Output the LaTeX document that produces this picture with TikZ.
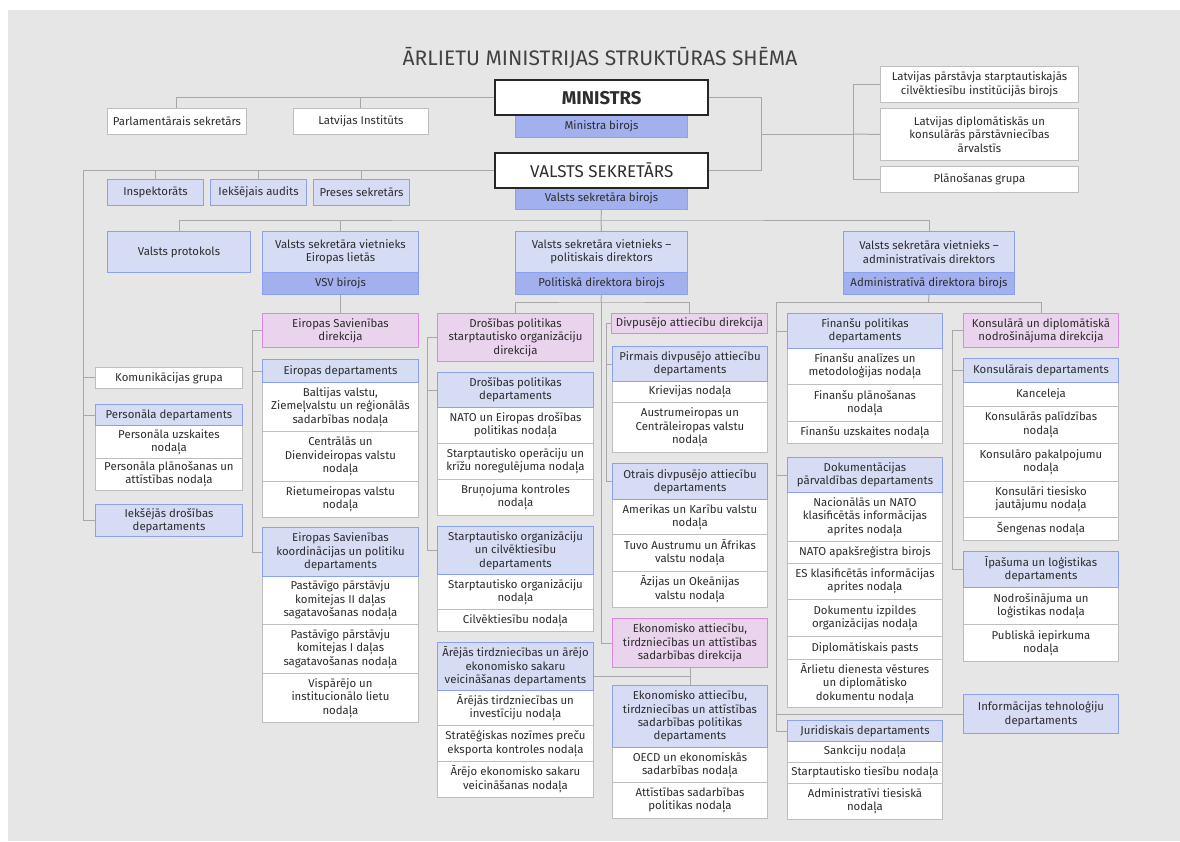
\documentclass[tikz,border=0pt]{standalone}
\usepackage{fontspec}
\setmainfont{Fira Sans}
\usetikzlibrary{calc}
\definecolor{bgc}{RGB}{230,230,230}
\definecolor{txt}{RGB}{45,45,45}
\definecolor{lnc}{RGB}{168,168,168}
\definecolor{wbd}{RGB}{190,190,190}
\definecolor{lbf}{RGB}{214,220,244}
\definecolor{bbd}{RGB}{140,160,240}
\definecolor{dbf}{RGB}{162,177,238}
\definecolor{pkf}{RGB}{234,211,236}
\definecolor{pkd}{RGB}{218,135,230}
\pgfdeclarelayer{back}
\pgfdeclarelayer{lines}
\pgfsetlayers{back,lines,main}
\newcommand\obox[7]{\node[#1,anchor=north west,minimum width={(#5-#3)*1pt},minimum height={(#6-#4)*1pt}] (#2) at (#3,#4) {#7};}
\tikzset{
  basebox/.style={inner sep=1pt,align=center,font=\fontsize{11.4}{13.4}\selectfont,text=txt},
  wbox/.style={basebox,fill=white,draw=wbd,line width=0.9pt},
  lbox/.style={basebox,fill=lbf,draw=bbd,line width=1pt},
  dbox/.style={basebox,fill=dbf,draw=bbd,line width=1pt},
  pbox/.style={basebox,fill=pkf,draw=pkd,line width=1pt},
  kbox/.style={basebox,fill=white,draw=black!85,line width=2.4pt},
  conn/.style={draw=lnc,line width=1pt},
}
\begin{document}
\begin{tikzpicture}[x=1pt,y=-1pt]
\useasboundingbox (0,0) rectangle (1180,841);
\begin{pgfonlayer}{back}
\fill[white] (0,0) rectangle (1180,841);
\fill[bgc] (8,10) rectangle (1180,841);
\end{pgfonlayer}

\node[font=\fontsize{21}{25}\selectfont,text=txt!90] (title) at (600,58) {ĀRLIETU MINISTRIJAS STRUKTŪRAS SHĒMA};

% top level
\obox{wbox}{parl}{107}{108}{246}{134}{Parlamentārais sekretārs}
\obox{wbox}{inst}{293}{108}{428}{134}{Latvijas Institūts}
\obox{dbox}{minb}{515}{114}{687}{137}{Ministra birojs}
\obox{kbox}{min}{494}{79}{707}{114}{\fontsize{18.5}{21}\selectfont\bfseries MINISTRS}
\obox{dbox}{vsb}{515}{187}{687}{209}{Valsts sekretāra birojs}
\obox{kbox}{vs}{494}{152}{707}{187}{\fontsize{17}{20}\selectfont VALSTS SEKRETĀRS}
\obox{wbox}{r1}{880}{66}{1078}{102}{Latvijas pārstāvja starptautiskajās\\cilvēktiesību institūcijās birojs}
\obox{wbox}{r2}{880}{108}{1078}{160}{Latvijas diplomātiskās un\\konsulārās pārstāvniecības\\ārvalstīs}
\obox{wbox}{r3}{880}{166}{1078}{192}{Plānošanas grupa}

\obox{lbox}{insp}{107}{179}{203}{205}{Inspektorāts}
\obox{lbox}{aud}{210}{179}{306}{205}{Iekšējais audits}
\obox{lbox}{pres}{313}{179}{409}{205}{Preses sekretārs}

\obox{lbox}{prot}{107}{231}{250}{272}{Valsts protokols}
\obox{lbox}{vsve}{262}{231}{418}{272}{Valsts sekretāra vietnieks\\Eiropas lietās}
\obox{dbox}{vsvb}{262}{272}{418}{294}{VSV birojs}
\obox{lbox}{pol}{515}{231}{687}{272}{Valsts sekretāra vietnieks –\\politiskais direktors}
\obox{dbox}{polb}{515}{272}{687}{294}{Politiskā direktora birojs}
\obox{lbox}{adm}{843}{231}{1014}{272}{Valsts sekretāra vietnieks –\\administratīvais direktors}
\obox{dbox}{admb}{843}{272}{1014}{294}{Administratīvā direktora birojs}

% left column
\obox{wbox}{kom}{95}{367}{242}{388}{Komunikācijas grupa}
\obox{wbox}{p1}{95}{425}{242}{458}{Personāla uzskaites\\nodaļa}
\obox{wbox}{p2}{95}{458}{242}{490}{Personāla plānošanas un\\attīstības nodaļa}
\obox{lbox}{pers}{95}{404}{242}{425}{Personāla departaments}
\obox{lbox}{iek}{95}{504}{242}{536}{Iekšējās drošības\\departaments}

% VSV column
\obox{pbox}{esd}{262}{313}{418}{347}{Eiropas Savienības\\direkcija}
\obox{wbox}{e1}{262}{382}{418}{431}{Baltijas valstu,\\Ziemeļvalstu un reģionālās\\sadarbības nodaļa}
\obox{wbox}{e2}{262}{431}{418}{481}{Centrālās un\\Dienvideiropas valstu\\nodaļa}
\obox{wbox}{e3}{262}{481}{418}{517}{Rietumeiropas valstu\\nodaļa}
\obox{lbox}{eur}{262}{359}{418}{382}{Eiropas departaments}
\obox{wbox}{k1}{262}{576}{418}{624}{Pastāvīgo pārstāvju\\komitejas II daļas\\sagatavošanas nodaļa}
\obox{wbox}{k2}{262}{624}{418}{673}{Pastāvīgo pārstāvju\\komitejas I daļas\\sagatavošanas nodaļa}
\obox{wbox}{k3}{262}{673}{418}{722}{Vispārējo un\\institucionālo lietu\\nodaļa}
\obox{lbox}{esk}{262}{527}{418}{576}{Eiropas Savienības\\koordinācijas un politiku\\departaments}

% political left
\obox{pbox}{drd}{437}{313}{593}{361}{Drošības politikas\\starptautisko organizāciju\\direkcija}
\obox{wbox}{d1}{437}{407}{593}{443}{NATO un Eiropas drošības\\politikas nodaļa}
\obox{wbox}{d2}{437}{443}{593}{479}{Starptautisko operāciju un\\krīžu noregulējuma nodaļa}
\obox{wbox}{d3}{437}{479}{593}{515}{Bruņojuma kontroles\\nodaļa}
\obox{lbox}{dpd}{437}{372}{593}{407}{Drošības politikas\\departaments}
\obox{wbox}{s1}{437}{574}{593}{609}{Starptautisko organizāciju\\nodaļa}
\obox{wbox}{s2}{437}{609}{593}{631}{Cilvēktiesību nodaļa}
\obox{lbox}{sod}{437}{526}{593}{574}{Starptautisko organizāciju\\un cilvēktiesību\\departaments}
\obox{wbox}{a1}{437}{690}{593}{725}{Ārējās tirdzniecības un\\investīciju nodaļa}
\obox{wbox}{a2}{437}{725}{593}{761}{Stratēģiskas nozīmes preču\\eksporta kontroles nodaļa}
\obox{wbox}{a3}{437}{761}{593}{797}{Ārējo ekonomisko sakaru\\veicināšanas nodaļa}
\obox{lbox}{ard}{437}{642}{593}{690}{Ārējās tirdzniecības un ārējo\\ekonomisko sakaru\\veicināšanas departaments}

% political right
\obox{pbox}{dvd}{611}{313}{767}{333}{Divpusējo attiecību direkcija}
\obox{wbox}{pi1}{612}{381}{767}{402}{Krievijas nodaļa}
\obox{wbox}{pi2}{612}{402}{767}{452}{Austrumeiropas un\\Centrāleiropas valstu\\nodaļa}
\obox{lbox}{pir}{612}{346}{767}{381}{Pirmais divpusējo attiecību\\departaments}
\obox{wbox}{o1}{612}{499}{767}{534}{Amerikas un Karību valstu\\nodaļa}
\obox{wbox}{o2}{612}{534}{767}{571}{Tuvo Austrumu un Āfrikas\\valstu nodaļa}
\obox{wbox}{o3}{612}{571}{767}{607}{Āzijas un Okeānijas\\valstu nodaļa}
\obox{lbox}{otr}{612}{463}{767}{499}{Otrais divpusējo attiecību\\departaments}
\obox{pbox}{ekd}{612}{618}{767}{667}{Ekonomisko attiecību,\\tirdzniecības un attīstības\\sadarbības direkcija}
\obox{wbox}{ek1}{612}{747}{767}{782}{OECD un ekonomiskās\\sadarbības nodaļa}
\obox{wbox}{ek2}{612}{782}{767}{818}{Attīstības sadarbības\\politikas nodaļa}
\obox{lbox}{ekp}{612}{685}{767}{747}{Ekonomisko attiecību,\\tirdzniecības un attīstības\\sadarbības politikas\\departaments}

% admin left
\obox{wbox}{f1}{787}{348}{942}{384}{Finanšu analīzes un\\metodoloģijas nodaļa}
\obox{wbox}{f2}{787}{384}{942}{421}{Finanšu plānošanas\\nodaļa}
\obox{wbox}{f3}{787}{421}{942}{443}{Finanšu uzskaites nodaļa}
\obox{lbox}{fin}{787}{313}{942}{348}{Finanšu politikas\\departaments}
\obox{wbox}{dk1}{787}{492}{942}{541}{Nacionālās un NATO\\klasificētās informācijas\\aprites nodaļa}
\obox{wbox}{dk2}{787}{541}{942}{563}{NATO apakšreģistra birojs}
\obox{wbox}{dk3}{787}{563}{942}{599}{ES klasificētās informācijas\\aprites nodaļa}
\obox{wbox}{dk4}{787}{599}{942}{636}{Dokumentu izpildes\\organizācijas nodaļa}
\obox{wbox}{dk5}{787}{636}{942}{659}{Diplomātiskais pasts}
\obox{wbox}{dk6}{787}{659}{942}{707}{Ārlietu dienesta vēstures\\un diplomātisko\\dokumentu nodaļa}
\obox{lbox}{dok}{787}{457}{942}{492}{Dokumentācijas\\pārvaldības departaments}
\obox{wbox}{j1}{787}{741}{942}{762}{Sankciju nodaļa}
\obox{wbox}{j2}{787}{762}{942}{783}{Starptautisko tiesību nodaļa}
\obox{wbox}{j3}{787}{783}{942}{819}{Administratīvi tiesiskā\\nodaļa}
\obox{lbox}{jur}{787}{720}{942}{741}{Juridiskais departaments}

% admin right
\obox{pbox}{kdd}{963}{313}{1118}{347}{Konsulārā un diplomātiskā\\nodrošinājuma direkcija}
\obox{wbox}{kn1}{963}{382}{1118}{406}{Kanceleja}
\obox{wbox}{kn2}{963}{406}{1118}{443}{Konsulārās palīdzības\\nodaļa}
\obox{wbox}{kn3}{963}{443}{1118}{481}{Konsulāro pakalpojumu\\nodaļa}
\obox{wbox}{kn4}{963}{481}{1118}{517}{Konsulāri tiesisko\\jautājumu nodaļa}
\obox{wbox}{kn5}{963}{517}{1118}{540}{Šengenas nodaļa}
\obox{lbox}{kon}{963}{358}{1118}{382}{Konsulārais departaments}
\obox{wbox}{ip1}{963}{587}{1118}{624}{Nodrošinājuma un\\loģistikas nodaļa}
\obox{wbox}{ip2}{963}{624}{1118}{661}{Publiskā iepirkuma\\nodaļa}
\obox{lbox}{ipa}{963}{551}{1118}{587}{Īpašuma un loģistikas\\departaments}
\obox{lbox}{it}{963}{694}{1118}{733}{Informācijas tehnoloģiju\\departaments}

% connectors
\begin{pgfonlayer}{lines}
\coordinate (rj) at (761,134);
\coordinate (rb) at (853,134);
\coordinate (lb) at (83,167);
\coordinate (hb) at (601,220);
\coordinate (eb) at (252,330);
\coordinate (pj) at (601,302);
\coordinate (plb) at (427,337);
\coordinate (pdb) at (606,323);
\coordinate (aj) at (928.5,302);
\coordinate (ab) at (776,330);
\coordinate (kb) at (952,330);
\draw[conn] (min.west) -| (parl.north);
\draw[conn] (min.west) -| (inst.north);
\draw[conn] (min.east) -| (rj) |- (vs.east);
\draw[conn] (rj) -- (rb);
\draw[conn] (r1.west) -| (rb) |- (r3.west);
\draw[conn] (rb) -- (r2.west);
\draw[conn] (vs.west) -| (iek.west -| lb) -- (iek.west);
\draw[conn] (vs.west) -| (insp.north);
\draw[conn] (vs.west) -| (aud.north);
\draw[conn] (vs.west) -| (pres.north);
\draw[conn] (kom.west -| lb) -- (kom.west);
\draw[conn] (pers.west -| lb) -- (pers.west);
\draw[conn] (vsb.south) -- (hb);
\draw[conn] (prot.north) |- (hb) -| (adm.north);
\draw[conn] (vsve.north) -- (vsve.north |- hb);
\draw[conn] (hb) -- (pol.north);
\draw[conn] (vsvb.south) -- (esd.north);
\draw[conn] (esd.west) -- (esd.west -| eb) |- (esk.west);
\draw[conn] (eur.west -| eb) -- (eur.west);
\draw[conn] (polb.south) -- (pj);
\draw[conn] (drd.north) |- (pj) -| (dvd.north);
\draw[conn] (pj) |- (ekd.west);
\draw[conn] (drd.west) -- (drd.west -| plb) |- (sod.west);
\draw[conn] (dpd.west -| plb) -- (dpd.west);
\draw[conn] (dvd.west) -- (dvd.west -| pdb) |- (otr.west);
\draw[conn] (pir.west -| pdb) -- (pir.west);
\draw[conn] (ekd.south) -- (ekp.north);
\coordinate (ej) at ($(ekd.south)!0.5!(ekp.north)$);
\draw[conn] (ej) -- (ej -| ard.east);
\draw[conn] (admb.south) -- (aj);
\draw[conn] (aj) -| (jur.west -| ab) -- (jur.west);
\draw[conn] (aj) -| (kdd.north);
\draw[conn] (fin.west -| ab) -- (fin.west);
\draw[conn] (dok.west -| ab) -- (dok.west);
\draw[conn] (it.west -| ab) -- (it.west);
\draw[conn] (kdd.west) -- (kdd.west -| kb) |- (ipa.west);
\draw[conn] (kon.west -| kb) -- (kon.west);
\end{pgfonlayer}
\end{tikzpicture}
\end{document}
